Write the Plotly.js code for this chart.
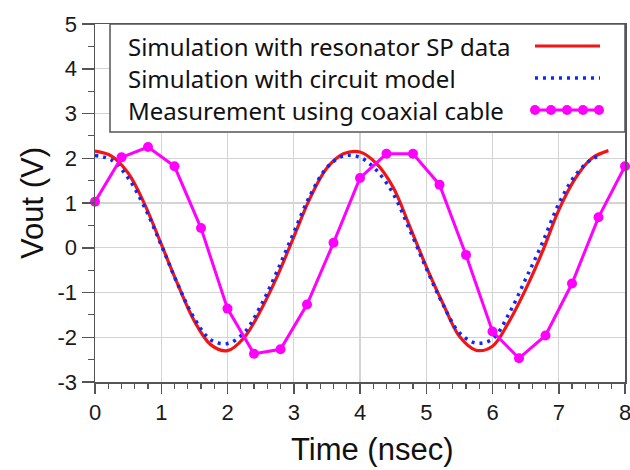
<!DOCTYPE html>
<html>
<head>
<meta charset="utf-8">
<script src="https://cdn.plot.ly/plotly-3.0.1.min.js"></script>
<style>html,body{margin:0;padding:0;background:#fff;}#chart{width:630px;height:470px;}</style>
</head>
<body>
<div id="chart"></div>
<script>
// ---- data ----
const xSP = [0,0.25,0.5,0.75,1.0,1.25,1.5,1.75,2.0,2.25,2.5,2.75,3.0,3.25,3.5,3.75,4.0,4.25,4.5,4.75,5.0,5.25,5.5,5.75,6.0,6.25,6.5,6.75,7.0,7.25,7.5,7.75];
const ySP = [2.16,2.05,1.67,0.97,0.08,-0.82,-1.64,-2.17,-2.30,-2.01,-1.40,-0.64,0.24,1.12,1.78,2.10,2.14,1.88,1.35,0.48,-0.42,-1.24,-1.98,-2.29,-2.20,-1.65,-0.93,-0.10,0.84,1.55,2.00,2.17];

const xModel = [0,0.25,0.5,0.75,1.0,1.25,1.5,1.75,2.0,2.25,2.5,2.75,3.0,3.25,3.5,3.75,4.0,4.25,4.5,4.75,5.0,5.25,5.5,5.75,6.0,6.25,6.5,6.75,7.0,7.25,7.5,7.65];
const yModel = [2.06,1.96,1.56,0.90,0.06,-0.82,-1.58,-2.06,-2.14,-1.90,-1.30,-0.52,0.34,1.18,1.79,2.05,2.02,1.73,1.21,0.40,-0.46,-1.26,-1.90,-2.13,-2.04,-1.47,-0.70,0.10,0.98,1.62,1.98,2.06];

const xMeas = [0,0.4,0.8,1.2,1.6,2.0,2.4,2.8,3.2,3.6,4.0,4.4,4.8,5.2,5.6,6.0,6.4,6.8,7.2,7.6,8.0];
const yMeas = [1.03,2.02,2.25,1.82,0.44,-1.36,-2.37,-2.27,-1.27,0.11,1.56,2.10,2.10,1.41,-0.16,-1.87,-2.47,-1.96,-0.80,0.68,1.82];

const seriesNames = ["Simulation with resonator SP data","Simulation with circuit model","Measurement using coaxial cable"];
const xTickVals = [0,1,2,3,4,5,6,7,8];
const xTickText = ["0","1","2","3","4","5","6","7","8"];
const yTickVals = [-3,-2,-1,0,1,2,3,4,5];
const yTickText = ["-3","-2","-1","0","1","2","3","4","5"];
const xTitle = "Time (nsec)";
const yTitle = "Vout (V)";

const cRed = "#f41414", cBlue = "#0a28ff", cMag = "#ff00ff";
const ARIAL = "'Liberation Sans', Arial, sans-serif";
const LEGF = "'Noto Sans', 'Open Sans', sans-serif";

const traces = [
  {x:xSP, y:ySP, type:"scatter", mode:"lines", name:seriesNames[0], line:{color:cRed, width:3.2, shape:"spline", smoothing:1}},
  {x:xModel, y:yModel, type:"scatter", mode:"lines", name:seriesNames[1], line:{color:cBlue, width:3.5, dash:"3px,5px", shape:"spline", smoothing:1}},
  {x:xMeas, y:yMeas, type:"scatter", mode:"lines+markers", name:seriesNames[2], cliponaxis:false, line:{color:cMag, width:3}, marker:{color:cMag, size:10}}
];

// manual legend (symbols sit to the right of the text)
const L = 95, W = 530, T = 24, H = 358;
const px = v => (v - L) / W;
const py = v => (T + H - v) / H;
const rowY = [46, 78, 110];
const shapes = [
  {type:"rect", xref:"paper", yref:"paper", x0:px(110), x1:1.0, y0:py(132), y1:1.0, fillcolor:"#fff", line:{color:"#555", width:1.5}, layer:"above"},
  {type:"line", xref:"paper", yref:"paper", x0:px(535), x1:px(600), y0:py(rowY[0]), y1:py(rowY[0]), line:{color:cRed, width:3.2}, layer:"above"},
  {type:"line", xref:"paper", yref:"paper", x0:px(535), x1:px(600), y0:py(rowY[1]), y1:py(rowY[1]), line:{color:cBlue, width:3.5, dash:"3px,5px"}, layer:"above"},
  {type:"line", xref:"paper", yref:"paper", x0:px(535), x1:px(600), y0:py(rowY[2]), y1:py(rowY[2]), line:{color:cMag, width:3}, layer:"above"}
];
[535,551,567,583,599].forEach(cx => {
  shapes.push({type:"circle", xref:"paper", yref:"paper", xsizemode:"pixel", ysizemode:"pixel",
    xanchor:px(cx), yanchor:py(rowY[2]), x0:-5, x1:5, y0:-5, y1:5,
    fillcolor:cMag, line:{color:cMag, width:0}, layer:"above"});
});

const annotations = seriesNames.map((t,i) => ({
  text:t, xref:"paper", yref:"paper", x:px(126), y:py(rowY[i]), xanchor:"left", yanchor:"middle",
  showarrow:false, font:{family:LEGF, size:24, color:"#111"}
}));
annotations.push({text:xTitle, xref:"paper", yref:"paper", x:px(372), y:py(450), xanchor:"center", yanchor:"middle",
  showarrow:false, font:{family:ARIAL, size:31, color:"#111"}});
annotations.push({text:yTitle, xref:"paper", yref:"paper", x:px(32), y:0.5, xanchor:"center", yanchor:"middle", textangle:-90,
  showarrow:false, font:{family:ARIAL, size:31, color:"#111"}});

const layout = {
  width:630, height:470,
  margin:{l:95, r:5, t:24, b:88, pad:0},
  paper_bgcolor:"#fff", plot_bgcolor:"#fff",
  showlegend:false,
  font:{family:ARIAL, size:22, color:"#1a1a1a"},
  xaxis:{range:[0,8], tickvals:xTickVals, ticktext:xTickText, ticks:"outside", ticklen:10, tickwidth:1.5, tickcolor:"#555",
    ticklabeloverflow:"allow",
    showline:true, linecolor:"#555", linewidth:1.5, mirror:true,
    showgrid:true, gridcolor:"#d4d4d4", gridwidth:1.2, zeroline:false,
    minor:{dtick:0.2, ticks:"outside", ticklen:5, tickwidth:1.2, tickcolor:"#555", showgrid:false},
    tickfont:{family:ARIAL, size:22}},
  yaxis:{range:[-3,5], tickvals:yTickVals, ticktext:yTickText, ticks:"outside", ticklen:12, tickwidth:1.5, tickcolor:"#555",
    showline:true, linecolor:"#555", linewidth:1.5, mirror:true,
    showgrid:true, gridcolor:"#d4d4d4", gridwidth:1.2, zeroline:false,
    minor:{dtick:0.5, ticks:"outside", ticklen:6, tickwidth:1.2, tickcolor:"#555", showgrid:false},
    tickfont:{family:ARIAL, size:22}},
  shapes:shapes,
  annotations:annotations
};

Plotly.newPlot("chart", traces, layout, {displayModeBar:false, staticPlot:true});
</script>
</body>
</html>
